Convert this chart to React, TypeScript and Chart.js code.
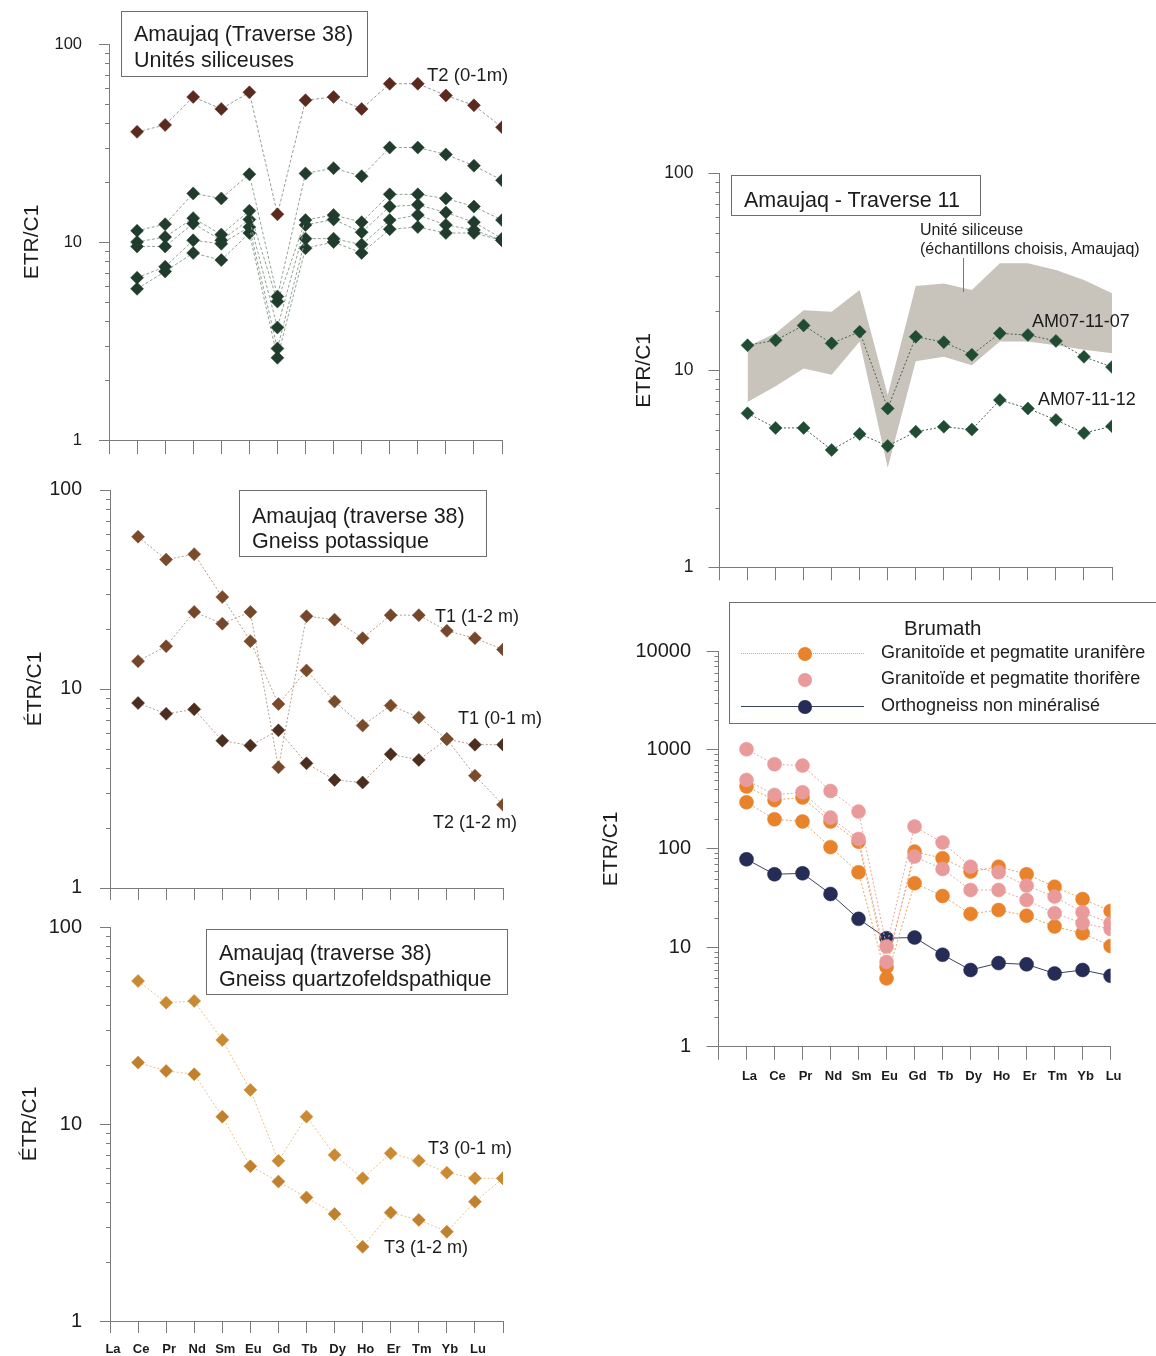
import React, { useEffect, useRef } from 'react';
import { Chart, registerables } from 'chart.js';

Chart.register(...registerables);
Chart.defaults.font.family = "'Liberation Sans', Arial, sans-serif";

// ---------- shared ----------
const ELEMENTS = ['La', 'Ce', 'Pr', 'Nd', 'Sm', 'Eu', 'Gd', 'Tb', 'Dy', 'Ho', 'Er', 'Tm', 'Yb', 'Lu'];
const POSITIONS = [0, 1, 2, 3, 4, 5, 6, 7, 8, 9, 10, 11, 12, 13];
const TICK_POSITIONS = [-1, 0, 1, 2, 3, 4, 5, 6, 7, 8, 9, 10, 11, 12, 13];
// labels printed under the quartzofeldspathic panel (shifted one tick left, as in the source)
const QF_TICK_LABELS = ['La', 'Ce', 'Pr', 'Nd', 'Sm', 'Eu', 'Gd', 'Tb', 'Dy', 'Ho', 'Er', 'Tm', 'Yb', 'Lu', ''];
const BR_TICK_LABELS = ['', 'La', 'Ce', 'Pr', 'Nd', 'Sm', 'Eu', 'Gd', 'Tb', 'Dy', 'Ho', 'Er', 'Tm', 'Yb', 'Lu'];
const Y_TICKS_100 = [1, 10, 100];
const Y_TICKS_10000 = [1, 10, 100, 1000, 10000];

// ---------- Panel 1: Amaujaq (Traverse 38) Unités siliceuses ----------
const SIL_T2_0_1 = [36, 39, 54, 47, 57, 13.8, 52, 54, 47, 63, 63, 55, 49, 38];
const SIL_A = [11.4, 12.3, 17.6, 16.6, 22.0, 5.3, 22.2, 23.6, 21.5, 30, 30, 27.7, 24.3, 20.5];
const SIL_B = [10.0, 10.6, 13.2, 10.9, 14.4, 5.0, 12.9, 13.7, 12.6, 17.4, 17.4, 16.6, 15.1, 12.9];
const SIL_C = [9.5, 9.5, 12.4, 10.2, 13.0, 3.7, 12.2, 13.0, 11.2, 15.1, 15.4, 14.1, 12.6, 10.4];
const SIL_D = [6.6, 7.5, 10.2, 9.8, 11.9, 2.9, 10.4, 10.4, 9.7, 12.9, 13.7, 12.2, 11.5, 10.2];
const SIL_E = [5.8, 7.1, 8.8, 8.1, 11.1, 2.6, 9.3, 10.0, 8.8, 11.6, 11.9, 11.1, 11.1, 10.2];

// ---------- Panel 2: Gneiss potassique ----------
const POT_T2_1_2 = [58.2, 44.7, 47.6, 29.0, 17.4, 8.4, 12.4, 8.65, 6.55, 8.26, 7.2, 5.6, 3.67, 2.62];
const POT_T1_1_2 = [13.8, 16.4, 24.4, 21.3, 24.4, 4.04, 23.2, 22.3, 18.0, 23.5, 23.5, 19.6, 18.0, 15.8];
const POT_T1_0_1 = [8.5, 7.5, 7.9, 5.5, 5.2, 6.2, 4.23, 3.49, 3.39, 4.7, 4.4, 5.6, 5.25, 5.25];

// ---------- Panel 3: Gneiss quartzofeldspathique ----------
const QF_T3_0_1 = [53.2, 41.3, 42.1, 26.7, 14.9, 6.5, 10.9, 6.96, 5.3, 7.1, 6.5, 5.66, 5.3, 5.3];
const QF_T3_1_2 = [20.5, 18.6, 17.9, 10.9, 6.1, 5.1, 4.24, 3.49, 2.38, 3.55, 3.26, 2.84, 4.03, 5.3];

// ---------- Panel 4: Amaujaq - Traverse 11 ----------
const T11_AM07_11_07 = [13.4, 14.2, 16.9, 13.7, 15.7, 6.4, 14.8, 13.9, 12.0, 15.4, 15.1, 14.1, 11.7, 10.4];
const T11_AM07_11_12 = [6.05, 5.1, 5.1, 3.94, 4.75, 4.13, 4.88, 5.17, 5.0, 7.07, 6.4, 5.6, 4.8, 5.2];
const T11_BAND_HIGH = [13.2, 15.4, 20.2, 19.8, 25.6, 7.5, 26.8, 27.6, 25.6, 34.9, 34.9, 32.3, 28.7, 24.6];
const T11_BAND_LOW = [6.9, 8.3, 10.2, 9.5, 14.0, 3.2, 11.1, 11.7, 10.6, 14.0, 14.0, 13.4, 12.7, 12.2];

// ---------- Panel 5: Brumath ----------
const BR_URAN_1 = [426, 312, 330, 189, 118, 6.4, 93.8, 80.3, 58.9, 66, 55.3, 41.5, 31.1, 23.6];
const BR_URAN_2 = [296, 199, 189, 104, 58, 4.9, 44.9, 33.4, 22.0, 24.1, 21.1, 16.4, 14.0, 10.4];
const BR_THOR_1 = [1016, 716, 694, 385, 238, 10.3, 168, 116, 66, 58, 42.5, 32.9, 22.8, 17.7];
const BR_THOR_2 = [497, 351, 373, 207, 126, 7.2, 83.5, 62.6, 38.4, 38.4, 30.4, 22.3, 17.7, 15.5];
const BR_ORTHO = [78.4, 55.3, 56.6, 35.0, 19.6, 12.5, 12.7, 8.5, 5.96, 7.0, 6.8, 5.5, 5.96, 5.2];

// ---------- styling ----------
const FONT = "'Liberation Sans', Arial, sans-serif";
const TEXT = '#1c1c1c';
const AXIS = '#7a7a7a';

const pts = (vals: number[]) => vals.map((v, i) => ({ x: POSITIONS[i], y: v }));

function series(vals: number[], color: string, line: string, style: string, radius: number, dash: number[], width = 1) {
  return {
    data: pts(vals),
    pointStyle: style,
    pointRadius: radius,
    pointBackgroundColor: color,
    pointBorderColor: color,
    pointBorderWidth: 0.5,
    borderColor: line,
    borderWidth: width,
    borderDash: dash,
    showLine: line !== 'none',
    fill: false,
    tension: 0,
  };
}

const minorTicks = {
  id: 'minorTicks',
  afterDraw(chart: any, _args: any, opts: any) {
    const s = chart.scales.y;
    const ctx = chart.ctx;
    ctx.save();
    ctx.strokeStyle = opts.color;
    ctx.lineWidth = 1;
    for (let d = s.min; d < s.max; d *= 10) {
      for (let m = 2; m <= 9; m++) {
        const p = Math.round(s.getPixelForValue(m * d)) + 0.5;
        ctx.beginPath();
        ctx.moveTo(s.right - opts.len, p);
        ctx.lineTo(s.right, p);
        ctx.stroke();
      }
    }
    ctx.restore();
  },
};

type Panel = {
  left: number; top: number; w: number; h: number;
  chartLeft: number; chartRight: number; chartTop: number; chartBottom: number;
  yMin: number; yMax: number; yTicks: number[];
  yTickSize: number; yTickPad: number; yTickLen: number;
  yTitle: string; yTitlePad: number;
  xTickLen: number; xLabels: string[] | null; xLabelPad: number;
  datasets: any[];
};

function buildConfig(p: Panel): any {
  const zeroPad = (s: any) => { s.paddingLeft = 0; s.paddingRight = 0; s.paddingTop = 0; s.paddingBottom = 0; };
  return {
    type: 'line',
    data: { datasets: p.datasets },
    plugins: [minorTicks],
    options: {
      responsive: false,
      animation: false,
      devicePixelRatio: 1,
      events: [],
      layout: { padding: { left: 0, top: p.chartTop, right: p.w - p.chartRight, bottom: 0 } },
      plugins: {
        legend: { display: false },
        tooltip: { enabled: false },
        minorTicks: { len: 4, color: AXIS },
      },
      scales: {
        x: {
          type: 'linear', min: -1, max: 13, position: 'bottom',
          afterBuildTicks: (s: any) => { s.ticks = TICK_POSITIONS.map((v) => ({ value: v })); },
          afterFit: (s: any) => { s.height = p.h - p.chartBottom; zeroPad(s); },
          grid: { drawOnChartArea: false, drawTicks: true, tickLength: p.xTickLen, color: AXIS, lineWidth: 1 },
          border: { display: true, color: AXIS, width: 1 },
          ticks: {
            autoSkip: false, maxRotation: 0, minRotation: 0,
            padding: p.xLabelPad, labelOffset: 3, color: TEXT,
            font: { size: 13, weight: 'bold', family: FONT },
            callback: (v: any) => (p.xLabels ? p.xLabels[Math.round(v) + 1] ?? '' : ''),
          },
        },
        y: {
          type: 'logarithmic', min: p.yMin, max: p.yMax, position: 'left',
          afterBuildTicks: (s: any) => { s.ticks = p.yTicks.map((v) => ({ value: v })); },
          afterFit: (s: any) => { s.width = p.chartLeft; zeroPad(s); },
          grid: { drawOnChartArea: false, drawTicks: true, tickLength: p.yTickLen, color: AXIS, lineWidth: 1 },
          border: { display: true, color: AXIS, width: 1 },
          ticks: {
            color: TEXT, padding: p.yTickPad,
            font: { size: p.yTickSize, family: FONT },
            callback: (v: any) => String(v),
          },
          title: {
            display: true, text: p.yTitle, color: TEXT,
            font: { size: 21, family: FONT },
            padding: { top: p.yTitlePad, bottom: 0 },
          },
        },
      },
    },
  };
}

function ChartPanel({ p }: { p: Panel }) {
  const ref = useRef<HTMLCanvasElement>(null);
  useEffect(() => {
    const chart = new Chart(ref.current as HTMLCanvasElement, buildConfig(p));
    return () => chart.destroy();
  }, []);
  return (
    <canvas
      ref={ref}
      width={p.w}
      height={p.h}
      style={{ position: 'absolute', left: p.left, top: p.top, width: p.w, height: p.h }}
    />
  );
}

// ---------- colours ----------
const BROWN_DK = '#5a2a1f';
const GREEN_DK = '#203c2d';
const GRAY_LINE = '#9a9a9a';
const GREEN_LINE = '#8fa396';
const POT_1 = '#7a4b2b';
const POT_2 = '#74462a';
const POT_3 = '#4b2e1e';
const POT_LINE = '#b79c88';
const QF_1 = '#c98a32';
const QF_2 = '#c0802d';
const QF_LINE = '#e6c286';
const T11_PT = '#1f4c33';
const T11_LINE = '#46604f';
const BAND = '#c8c4bb';
const ORANGE = '#e8832c';
const PINK = '#e99a9b';
const NAVY = '#252d56';

const P1: Panel = {
  left: 0, top: 0, w: 560, h: 470,
  chartLeft: 109, chartRight: 502, chartTop: 44, chartBottom: 440,
  yMin: 1, yMax: 100, yTicks: Y_TICKS_100,
  yTickSize: 16.5, yTickPad: 17, yTickLen: 10,
  yTitle: 'ETR/C1', yTitlePad: 20,
  xTickLen: 14, xLabels: null, xLabelPad: 4,
  datasets: [
    series(SIL_T2_0_1, BROWN_DK, GRAY_LINE, 'rectRot', 6.5, [3, 2]),
    series(SIL_A, GREEN_DK, GREEN_LINE, 'rectRot', 6.5, [3, 2]),
    series(SIL_B, GREEN_DK, GREEN_LINE, 'rectRot', 6.5, [3, 2]),
    series(SIL_C, GREEN_DK, GREEN_LINE, 'rectRot', 6.5, [3, 2]),
    series(SIL_D, GREEN_DK, GREEN_LINE, 'rectRot', 6.5, [3, 2]),
    series(SIL_E, GREEN_DK, GREEN_LINE, 'rectRot', 6.5, [3, 2]),
  ],
};

const P2: Panel = {
  left: 0, top: 470, w: 560, h: 440,
  chartLeft: 110, chartRight: 503, chartTop: 20, chartBottom: 418,
  yMin: 1, yMax: 100, yTicks: Y_TICKS_100,
  yTickSize: 19.5, yTickPad: 18, yTickLen: 10,
  yTitle: 'ÉTR/C1', yTitlePad: 23,
  xTickLen: 12, xLabels: null, xLabelPad: 4,
  datasets: [
    series(POT_T2_1_2, POT_1, POT_LINE, 'rectRot', 6.5, [2, 2]),
    series(POT_T1_1_2, POT_2, POT_LINE, 'rectRot', 6.5, [2, 2]),
    series(POT_T1_0_1, POT_3, POT_LINE, 'rectRot', 6.5, [2, 2]),
  ],
};

const P3: Panel = {
  left: 0, top: 910, w: 560, h: 446,
  chartLeft: 110, chartRight: 503, chartTop: 17, chartBottom: 411,
  yMin: 1, yMax: 100, yTicks: Y_TICKS_100,
  yTickSize: 20, yTickPad: 18, yTickLen: 10,
  yTitle: 'ÉTR/C1', yTitlePad: 18,
  xTickLen: 12, xLabels: QF_TICK_LABELS, xLabelPad: 9,
  datasets: [
    series(QF_T3_0_1, QF_1, QF_LINE, 'rectRot', 6.5, [2, 2]),
    series(QF_T3_1_2, QF_2, QF_LINE, 'rectRot', 6.5, [2, 2]),
  ],
};

const P4: Panel = {
  left: 600, top: 150, w: 556, h: 440,
  chartLeft: 119.5, chartRight: 512, chartTop: 23.3, chartBottom: 417.3,
  yMin: 1, yMax: 100, yTicks: Y_TICKS_100,
  yTickSize: 17.5, yTickPad: 15, yTickLen: 11,
  yTitle: 'ETR/C1', yTitlePad: 32,
  xTickLen: 13, xLabels: null, xLabelPad: 4,
  datasets: [
    series(T11_AM07_11_07, T11_PT, T11_LINE, 'rectRot', 6.5, [2, 2]),
    series(T11_AM07_11_12, T11_PT, T11_LINE, 'rectRot', 6.5, [2, 2]),
    {
      data: pts(T11_BAND_HIGH), pointRadius: 0, borderWidth: 0, borderColor: 'rgba(0,0,0,0)',
      backgroundColor: BAND, fill: '+1', tension: 0,
    },
    {
      data: pts(T11_BAND_LOW), pointRadius: 0, borderWidth: 0, borderColor: 'rgba(0,0,0,0)',
      fill: false, tension: 0,
    },
  ],
};

const P5: Panel = {
  left: 590, top: 600, w: 566, h: 500,
  chartLeft: 128.5, chartRight: 520.6, chartTop: 51, chartBottom: 446.7,
  yMin: 1, yMax: 10000, yTicks: Y_TICKS_10000,
  yTickSize: 20, yTickPad: 15.5, yTickLen: 12,
  yTitle: 'ETR/C1', yTitlePad: 9,
  xTickLen: 13, xLabels: BR_TICK_LABELS, xLabelPad: 9,
  datasets: [
    series(BR_THOR_1, PINK, '#eba7a3', 'circle', 7, [2, 2]),
    series(BR_THOR_2, PINK, '#eba7a3', 'circle', 7, [2, 2]),
    series(BR_URAN_1, ORANGE, '#eca35a', 'circle', 7, [2, 2]),
    series(BR_URAN_2, ORANGE, '#eca35a', 'circle', 7, [2, 2]),
    series(BR_ORTHO, NAVY, '#3c4262', 'circle', 7, [], 1),
  ],
};

// ---------- HTML text overlays ----------
function Txt({ x, y, size, children }: { x: number; y: number; size: number; children: React.ReactNode }) {
  return (
    <div
      style={{
        position: 'absolute', left: x, top: y - size * 0.6, fontSize: size, lineHeight: `${size * 1.2}px`,
        fontFamily: FONT, color: TEXT, whiteSpace: 'nowrap',
      }}
    >
      {children}
    </div>
  );
}

function Box({ x, y, w, h, noRight }: { x: number; y: number; w: number; h: number; noRight?: boolean }) {
  return (
    <div
      style={{
        position: 'absolute', left: x, top: y, width: w, height: h, boxSizing: 'border-box',
        border: '1px solid #6d6d6d', borderRight: noRight ? 'none' : '1px solid #6d6d6d',
      }}
    />
  );
}

function Dot({ x, y, color }: { x: number; y: number; color: string }) {
  return (
    <div
      style={{
        position: 'absolute', left: x - 7, top: y - 7, width: 14, height: 14, borderRadius: 7, background: color,
      }}
    />
  );
}

function HLine({ x1, x2, y, style }: { x1: number; x2: number; y: number; style: string }) {
  return <div style={{ position: 'absolute', left: x1, top: y, width: x2 - x1, height: 0, borderTop: style }} />;
}

export default function App() {
  return (
    <div style={{ position: 'absolute', left: 0, top: 0, width: 1156, height: 1356, overflow: 'hidden', background: '#ffffff' }}>
      <ChartPanel p={P1} />
      <ChartPanel p={P2} />
      <ChartPanel p={P3} />
      <ChartPanel p={P4} />
      <ChartPanel p={P5} />

      {/* Panel 1 */}
      <Box x={121} y={11} w={247} h={66} />
      <Txt x={134} y={35} size={21.5}>Amaujaq (Traverse 38)</Txt>
      <Txt x={134} y={61} size={21.5}>Unités siliceuses</Txt>
      <Txt x={427} y={75} size={18.5}>T2 (0-1m)</Txt>

      {/* Panel 2 */}
      <Box x={239} y={490} w={248} h={67} />
      <Txt x={252} y={517} size={21.5}>Amaujaq (traverse 38)</Txt>
      <Txt x={252} y={542} size={21.5}>Gneiss potassique</Txt>
      <Txt x={435} y={617} size={18}>T1 (1-2 m)</Txt>
      <Txt x={458} y={719} size={18}>T1 (0-1 m)</Txt>
      <Txt x={433} y={823} size={18}>T2 (1-2 m)</Txt>

      {/* Panel 3 */}
      <Box x={206} y={929} w={302} h={66} />
      <Txt x={219} y={954} size={21.5}>Amaujaq (traverse 38)</Txt>
      <Txt x={219} y={980} size={21.5}>Gneiss quartzofeldspathique</Txt>
      <Txt x={428} y={1149} size={18}>T3 (0-1 m)</Txt>
      <Txt x={384} y={1248} size={18}>T3 (1-2 m)</Txt>

      {/* Panel 4 */}
      <Box x={731} y={175} w={250} h={41} />
      <Txt x={744} y={201} size={21.5}>Amaujaq - Traverse 11</Txt>
      <Txt x={920} y={230} size={16}>Unité siliceuse</Txt>
      <Txt x={920} y={249} size={16}>(échantillons choisis, Amaujaq)</Txt>
      <div style={{ position: 'absolute', left: 963, top: 258, width: 0, height: 34, borderLeft: '1px solid #777' }} />
      <Txt x={1032} y={322} size={18}>AM07-11-07</Txt>
      <Txt x={1038} y={400} size={18}>AM07-11-12</Txt>

      {/* Panel 5 legend */}
      <Box x={729} y={602} w={427} h={122} noRight />
      <Txt x={904} y={628} size={20.5}>Brumath</Txt>
      <HLine x1={741} x2={864} y={653} style="1.5px dotted #e6a45c" />
      <Dot x={804.5} y={653.5} color={ORANGE} />
      <Txt x={881} y={653} size={18}>Granitoïde et pegmatite uranifère</Txt>
      <Dot x={804.5} y={679.5} color={PINK} />
      <Txt x={881} y={679} size={18}>Granitoïde et pegmatite thorifère</Txt>
      <HLine x1={741} x2={864} y={706} style="1px solid #3c4262" />
      <Dot x={804.5} y={706.5} color={NAVY} />
      <Txt x={881} y={706} size={18}>Orthogneiss non minéralisé</Txt>
    </div>
  );
}
